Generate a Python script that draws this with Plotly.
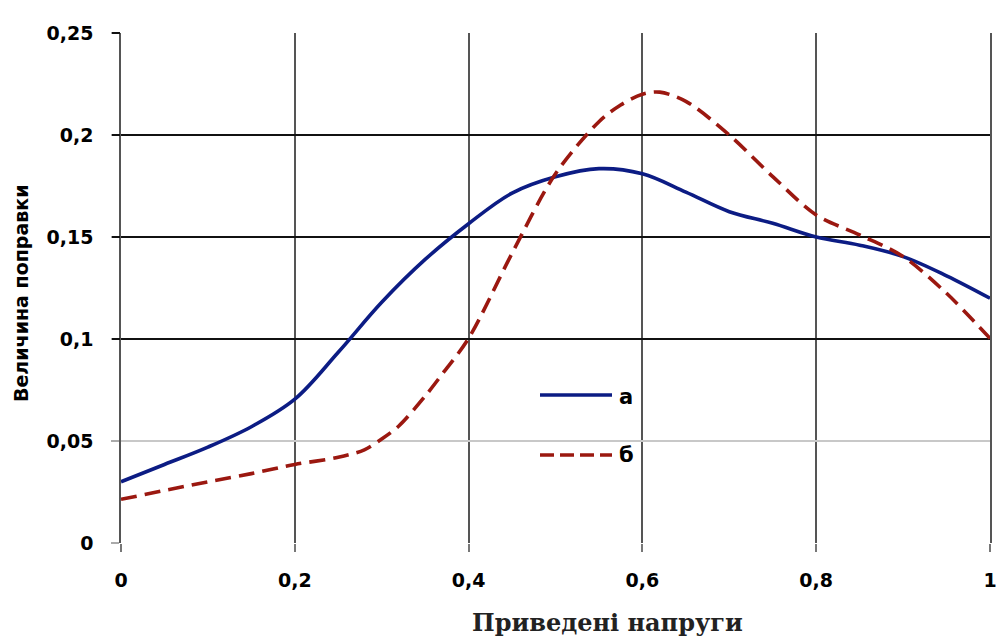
import plotly.graph_objects as go

# Data
x_a = [0, 0.05, 0.1, 0.15, 0.2, 0.25, 0.3, 0.35, 0.4, 0.45, 0.5, 0.55, 0.6, 0.65, 0.7, 0.75, 0.8, 0.85, 0.9, 0.95, 1.0]
y_a = [0.030, 0.0385, 0.047, 0.057, 0.0705, 0.0935, 0.118, 0.139, 0.1565, 0.1715, 0.1795, 0.1835, 0.181, 0.172, 0.1624, 0.1567, 0.150, 0.146, 0.1404, 0.131, 0.120]

x_b = [0, 0.1, 0.15, 0.2, 0.25, 0.28, 0.3, 0.32, 0.35, 0.37, 0.4, 0.45, 0.5, 0.55, 0.575, 0.6, 0.62, 0.65, 0.7, 0.75, 0.8, 0.85, 0.9, 0.95, 1.0]
y_b = [0.0214, 0.030, 0.034, 0.0385, 0.042, 0.0457, 0.051, 0.0575, 0.072, 0.083, 0.1003, 0.142, 0.181, 0.2065, 0.2147, 0.220, 0.221, 0.2165, 0.200, 0.1796, 0.1608, 0.151, 0.1404, 0.1224, 0.1003]

series_names = ["а", "б"]
x_ticks = [0, 0.2, 0.4, 0.6, 0.8, 1.0]
x_ticktext = ["0", "0,2", "0,4", "0,6", "0,8", "1"]
y_ticks = [0, 0.05, 0.1, 0.15, 0.2, 0.25]
y_ticktext = ["0", "0,05", "0,1", "0,15", "0,2", "0,25"]
y_dark_ticks = [0.1, 0.15, 0.2, 0.25]

BLUE = "#0c1c84"
RED = "#9b1810"

fig = go.Figure()
fig.add_trace(go.Scatter(x=x_a, y=y_a, mode="lines", name=series_names[0],
                         line=dict(color=BLUE, width=3.6, shape="spline", smoothing=1.0),
                         showlegend=False))
fig.add_trace(go.Scatter(x=x_b, y=y_b, mode="lines", name=series_names[1],
                         line=dict(color=RED, width=3.6, dash="16px,8px", shape="spline", smoothing=0.9),
                         showlegend=False))

tickfont = dict(family="DejaVu Sans", size=19, color="#000", weight="bold")

fig.update_layout(
    width=996, height=637,
    margin=dict(l=121, r=6, t=33, b=94),
    plot_bgcolor="white", paper_bgcolor="white",
    xaxis=dict(range=[0, 1], tickvals=x_ticks, ticktext=x_ticktext,
               showgrid=True, gridcolor="#555", gridwidth=1.5, zeroline=False,
               ticks="outside", ticklen=8, tickcolor="#777", tickwidth=1.5,
               ticklabelstandoff=12, tickfont=tickfont, showline=False,
               ticklabeloverflow="allow", automargin=False),
    yaxis=dict(range=[0, 0.25], tickvals=y_ticks, ticktext=y_ticktext,
               showgrid=True, gridcolor="#c8c8c8", gridwidth=1.5, zeroline=False,
               ticks="outside", ticklen=8, tickcolor="#aaa", tickwidth=1.5,
               ticklabelstandoff=14, tickfont=tickfont, automargin=False,
               showline=True, linecolor="#555", linewidth=1.5, mirror=True),
    yaxis2=dict(range=[0, 0.25], overlaying="y", side="left", tickvals=y_dark_ticks,
                showticklabels=False, showgrid=True, gridcolor="#111", gridwidth=2,
                zeroline=False, ticks="outside", ticklen=8, tickcolor="#111", tickwidth=2,
                showline=False, automargin=False),
)

# invisible trace to activate yaxis2 grid
fig.add_trace(go.Scatter(x=[None], y=[None], yaxis="y2", showlegend=False, hoverinfo="skip"))

# Manual legend
def px2x(px):
    return (px - 121) / 869.0

def py2y(py):
    return (543 - py) / 510.0

fig.add_shape(type="line", xref="paper", yref="paper", x0=px2x(540), x1=px2x(612),
              y0=py2y(395), y1=py2y(395), line=dict(color=BLUE, width=3.6))
fig.add_shape(type="line", xref="paper", yref="paper", x0=px2x(540), x1=px2x(612),
              y0=py2y(455), y1=py2y(455), line=dict(color=RED, width=3.6, dash="14px,6px"))
fig.add_annotation(xref="paper", yref="paper", x=px2x(617), y=py2y(397), text="<b>" + series_names[0] + "</b>",
                   showarrow=False, xanchor="left", yanchor="middle",
                   font=dict(family="DejaVu Sans", size=21, color="#000"))
fig.add_annotation(xref="paper", yref="paper", x=px2x(617), y=py2y(455), text="<b>" + series_names[1] + "</b>",
                   showarrow=False, xanchor="left", yanchor="middle",
                   font=dict(family="DejaVu Sans", size=21, color="#000"))

# Axis titles
fig.add_annotation(xref="paper", yref="paper", x=px2x(607), y=py2y(622),
                   text="<b>Приведені напруги</b>", showarrow=False,
                   xanchor="center", yanchor="middle",
                   font=dict(family="DejaVu Serif", size=24, color="#222"))
fig.add_annotation(xref="paper", yref="paper", x=px2x(21), y=py2y(294),
                   text="<b>Величина поправки</b>", showarrow=False, textangle=-90,
                   xanchor="center", yanchor="middle",
                   font=dict(family="DejaVu Sans", size=19, color="#000"))

fig.write_html("out.html")
